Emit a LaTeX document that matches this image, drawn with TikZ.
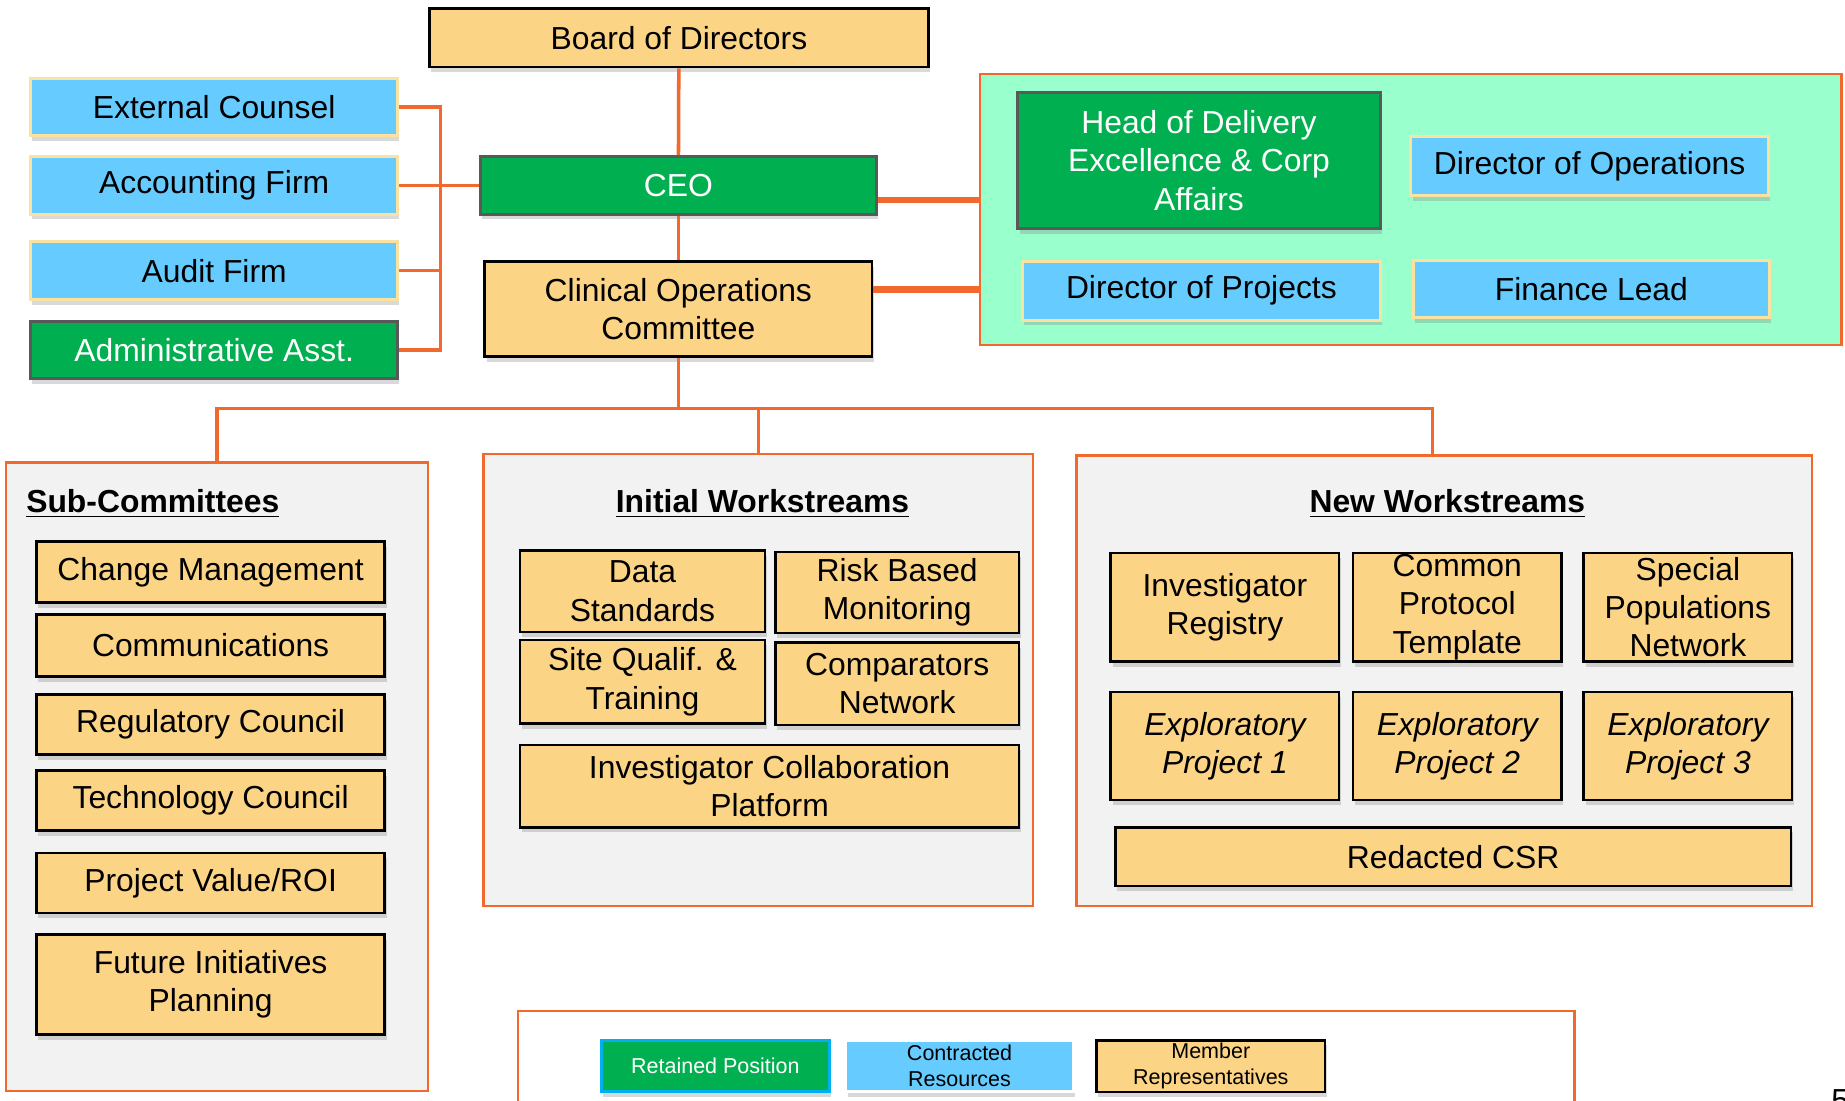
\documentclass[tikz,border=0pt]{standalone}
\usepackage{fontspec}
\setmainfont{Liberation Sans}
\usetikzlibrary{positioning,calc,shadows}

\definecolor{memberyellow}{RGB}{252,212,134}
\definecolor{contractblue}{RGB}{102,204,255}
\definecolor{retainedgreen}{RGB}{0,176,80}
\definecolor{mintpanel}{RGB}{153,255,204}
\definecolor{linkorange}{RGB}{241,105,45}
\definecolor{panelgray}{RGB}{242,242,242}
\definecolor{paleborder}{RGB}{252,226,160}
\definecolor{legendblue}{RGB}{0,176,240}

\newcommand{\boxfont}{\fontsize{15.4}{18.5}\selectfont}
\newcommand{\keyfont}{\fontsize{10.4}{12.5}\selectfont}

\begin{document}
\begin{tikzpicture}[x=0.2mm, y=-0.2mm,
    every node/.style={font=\boxfont},
    boxsize/.style 2 args={minimum width=#1*0.2mm, minimum height=#2*0.2mm},
    box/.style={rectangle, inner sep=0pt, align=center,
        drop shadow={shadow xshift=0.3mm, shadow yshift=-0.9mm, opacity=0.3}},
    member/.style={box, draw=black, line width=0.45mm, fill=memberyellow},
    contract/.style={box, draw=paleborder, line width=0.5mm, fill=contractblue},
    retained/.style={box, draw=black!65, line width=0.5mm, fill=retainedgreen, text=white},
    panel/.style={rectangle, draw=linkorange, line width=0.4mm, fill=panelgray, inner sep=0pt},
    wire/.style={draw=linkorange, line width=0.6mm},
    heavywire/.style={wire, line width=1.1mm},
    title/.style={font=\boxfont\bfseries, inner sep=0pt}]

    \useasboundingbox (0,0) rectangle (1568,935);
    \clip (0,0) rectangle (1568,935);

    % group panels
    \node[panel, fill=mintpanel, boxsize={732}{230}] (staff) at (1199,178) {};
    \node[panel, boxsize={359}{534}] (subpanel) at (184.5,660) {};
    \node[panel, boxsize={467}{384}] (initpanel) at (644.5,578) {};
    \node[panel, boxsize={625}{383}] (newpanel) at (1227.5,578.5) {};
    \node[panel, fill=white, boxsize={898}{160}, anchor=north] (keypanel) at (889,858) {};

    \node[title, anchor=west] (subtitle) at (22,428) {\underline{Sub-Committees}};
    \node[title] (inittitle) at (648,428) {\underline{Initial Workstreams}};
    \node[title] (newtitle) at (1230,428) {\underline{New Workstreams}};

    % governance
    \node[member, boxsize={424}{50}] (board) at (577,32) {Board of Directors};
    \node[contract, boxsize={312}{49}] (extcounsel) at (182,91) {External Counsel};
    \node[contract, boxsize={312}{49}] (accounting) at (182,157.5) {Accounting Firm};
    \node[contract, boxsize={312}{49}] (audit) at (182,230) {Audit Firm};
    \node[retained, boxsize={312}{49}] (adminasst) at (182,297.5) {Administrative Asst.};
    \node[retained, boxsize={337}{49}] (ceo) at (576.5,157.5) {CEO};
    \node[member, boxsize={329}{81}] (clinops) at (576.5,262.5) {Clinical Operations\\Committee};

    \node[retained, boxsize={308}{115}] (delivery) at (1019,136.5) {Head of Delivery\\Excellence \& Corp\\Affairs};
    \node[contract, boxsize={304}{50}] (dirops) at (1351,141) {Director of Operations};
    \node[contract, boxsize={304}{50}] (dirproj) at (1021,247) {Director of Projects};
    \node[contract, boxsize={303}{49}] (finance) at (1352.5,245.5) {Finance Lead};

    % sub-committees
    \node[member, boxsize={296}{52}] (change) at (179,486) {Change Management};
    \node[member, boxsize={296}{53}] (comms) at (179,548.5) {Communications};
    \node[member, boxsize={296}{51}] (regulatory) at (179,615.5) {Regulatory Council};
    \node[member, boxsize={296}{51}] (technology) at (179,680.5) {Technology Council};
    \node[member, boxsize={296}{51}] (roi) at (179,750.5) {Project Value/ROI};
    \node[member, boxsize={296}{85}] (future) at (179,836.5) {Future Initiatives\\Planning};

    % initial workstreams
    \node[member, boxsize={208}{69}] (datastd) at (546,502.5) {Data\\Standards};
    \node[member, boxsize={207}{69}] (riskmon) at (762.5,503.5) {Risk Based\\Monitoring};
    \node[member, boxsize={208}{71}] (sitequal) at (546,579.5) {Site Qualif. \&\\Training};
    \node[member, boxsize={207}{70}] (comparators) at (762.5,581) {Comparators\\Network};
    \node[member, boxsize={424}{70}] (collab) at (654,668) {Investigator Collaboration\\Platform};

    % new workstreams
    \node[member, boxsize={194}{92}] (registry) at (1041,516) {Investigator\\Registry};
    \node[member, boxsize={177}{92}] (protocol) at (1238.5,516) {Common\\Protocol\\Template};
    \node[member, boxsize={177}{92}] (populations) at (1434.5,516) {Special\\Populations\\Network};
    \node[member, boxsize={194}{92}, font=\boxfont\itshape] (explore1) at (1041,634) {Exploratory\\Project 1};
    \node[member, boxsize={177}{92}, font=\boxfont\itshape] (explore2) at (1238.5,634) {Exploratory\\Project 2};
    \node[member, boxsize={177}{92}, font=\boxfont\itshape] (explore3) at (1434.5,634) {Exploratory\\Project 3};
    \node[member, boxsize={574}{50}] (csr) at (1235,728) {Redacted CSR};

    % key
    \node[retained, draw=legendblue, boxsize={194}{44}, font=\keyfont] (keyretained) at (608,906) {Retained Position};
    \node[contract, draw=white, boxsize={193}{44}, font=\keyfont] (keycontract) at (815.5,906) {Contracted\\Resources};
    \node[member, boxsize={194}{44}, font=\keyfont] (keymember) at (1029,906) {Member\\Representatives};

    \node[anchor=north west, inner sep=0pt] (pagenum) at (1556,926) {5};

    % reporting lines
    \draw[wire] (board) -- (ceo);
    \draw[wire] (ceo) -- (clinops);
    \draw[wire] (extcounsel.east) -- ++(35,0) |- (adminasst.east);
    \draw[wire] (accounting.east) -- (ceo.west);
    \draw[wire] (audit.east) -- ++(35,0);
    \draw[heavywire] ([yshift=-2.5mm]ceo.east) coordinate (ceotap) -- (ceotap -| staff.west);
    \draw[heavywire] ([yshift=3.3mm]clinops.east) coordinate (coctap) -- (coctap -| staff.west);

    \draw[wire] (clinops.south) -- ++(0,43) coordinate (bus);
    \draw[wire] (bus) -| (subpanel.north);
    \draw[wire] (bus) -| (initpanel.north);
    \draw[wire] (bus) -| ([xshift=-2mm]newpanel.north);
\end{tikzpicture}
\end{document}
